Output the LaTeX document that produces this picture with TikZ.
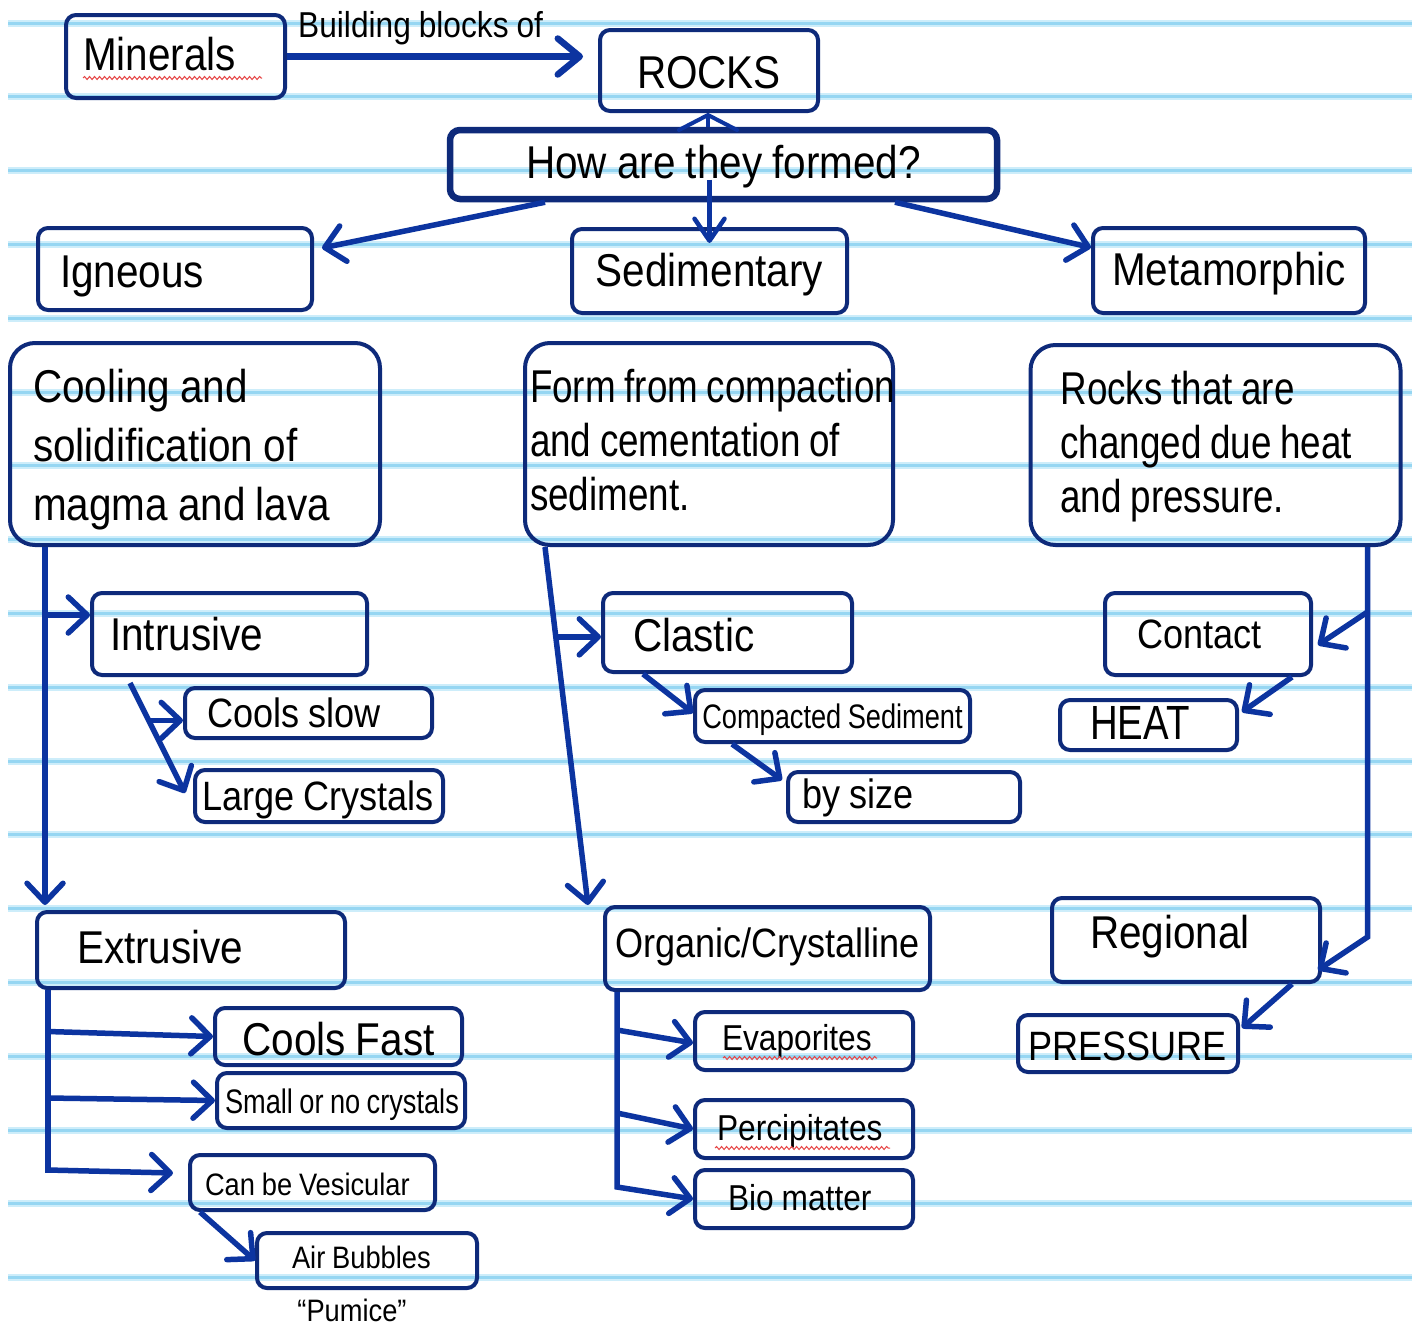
\documentclass[tikz,border=0pt]{standalone}
\usepackage{fontspec}
\setmainfont{Liberation Sans}[FakeStretch=0.88,WordSpace=0.9]
\newfontfamily\narrowsans{Liberation Sans}[FakeStretch=0.80,WordSpace=0.85]
\usetikzlibrary{arrows.meta,calc,decorations.pathmorphing}
\definecolor{boxc}{RGB}{14,42,122}
\definecolor{arrc}{RGB}{12,52,160}
\definecolor{rulea}{RGB}{205,237,250}
\definecolor{ruleb}{RGB}{150,214,242}
\definecolor{squigc}{RGB}{230,70,70}
\newcommand\natsp{\spaceskip=0pt\relax\xspaceskip=0pt\relax}
\tikzset{
  bx/.style={draw=boxc, line width=4pt, rounded corners=10pt, inner sep=0pt, text=black},
  bigbx/.style={bx, rounded corners=25pt},
  tb/.style 2 args={text height=#1pt, text depth=#2pt},
  lpad/.style={text width=#1pt, align=left},
  fbig/.style={font=\fontsize{46}{55}\selectfont},
  fmed/.style={font=\fontsize{41}{50}\selectfont},
  fsm/.style={font=\fontsize{31}{38}\selectfont},
  fev/.style={font=\fontsize{36}{44}\selectfont},
  conn/.style={draw=arrc, line width=5.5pt, -{Straight Barb[length=19pt,width=36pt,round]}},
  trunk/.style={draw=arrc, line width=5.5pt},
  ruleline/.style={draw=rulea, line width=7pt},
  rulecore/.style={draw=ruleb, line width=3pt},
  squig/.style={draw=squigc, line width=1pt, decorate, decoration={snake, segment length=5pt, amplitude=1.5pt}},
}
\begin{document}
\begin{tikzpicture}[x=1pt,y=-1pt]
\fill[white] (0,0) rectangle (1412,1325);
\useasboundingbox (0,0) rectangle (1412,1325);
% ruled paper
\foreach \k in {0,...,17}{
  \pgfmathsetmacro\yy{23+73.8*\k}
  \draw[ruleline] (8,\yy) -- (1412,\yy);
  \draw[rulecore] (8,\yy) -- (1412,\yy);
}
% top row
\node[bx, fbig, minimum width=219pt, minimum height=83pt, lpad=185, tb={33.5}{6.5}] (minerals) at (175.5,56.5) {\natsp\mbox{Minerals}};
\node[bx, fbig, minimum width=218pt, minimum height=81pt, tb={37.5}{2.5}] (rocks) at (709,70.5) {ROCKS};
\node[bx, fbig, line width=6.5pt, minimum width=547pt, minimum height=69pt, tb={34}{6}] (how) at (723.5,164.5) {How are they formed?};
\node[fev, anchor=base west, inner sep=0pt] (bblbl) at (298,37) {Building blocks of};
% second row
\node[bx, fbig, minimum width=274pt, minimum height=82pt, lpad=230, tb={38}{2}] (igneous) at (175,269) {\natsp\mbox{Igneous}};
\node[bx, fbig, minimum width=275pt, minimum height=84pt, tb={35.5}{4.5}] (sedimentary) at (709.5,271) {Sedimentary};
\node[bx, fbig, minimum width=272pt, minimum height=85pt, tb={34.5}{5.5}] (metamorphic) at (1229,270.5) {Metamorphic};
% description boxes
\node[bigbx, font=\fontsize{46}{59}\selectfont, minimum width=370pt, minimum height=202pt, lpad=324, tb={20}{104}] (cooling) at (195,444)
  {\natsp\mbox{Cooling and}\\\mbox{solidification of}\\\mbox{magma and lava}};
\node[bigbx, font=\narrowsans\fontsize{46}{54}\selectfont, minimum width=368pt, minimum height=202pt, lpad=358, tb={20}{104}] (form) at (709,444)
  {\natsp\mbox{Form from compaction}\\\mbox{and cementation of}\\\mbox{sediment.}};
\node[bigbx, font=\narrowsans\fontsize{46}{54}\selectfont, minimum width=370pt, minimum height=200pt, lpad=310, tb={20}{102}] (rocksthat) at (1215.5,445)
  {\natsp\mbox{Rocks that are}\\\mbox{changed due heat}\\\mbox{and pressure.}};
% igneous column
\node[bx, fbig, minimum width=275pt, minimum height=82pt, lpad=239, tb={36}{4}] (intrusive) at (229.5,634) {\natsp\mbox{Intrusive}};
\node[bx, fmed, minimum width=247pt, minimum height=50pt, lpad=203, tb={34}{6}] (coolsslow) at (308.5,713) {\natsp\mbox{Cools slow}};
\node[bx, fmed, minimum width=248pt, minimum height=52pt, lpad=234, tb={34}{6}] (largecrystals) at (319,796) {\natsp\mbox{Large Crystals}};
\node[bx, fbig, minimum width=308pt, minimum height=76pt, lpad=228, tb={33}{7}] (extrusive) at (191,950) {\natsp\mbox{Extrusive}};
\node[bx, fbig, minimum width=247pt, minimum height=57pt, tb={38.5}{1.5}] (coolsfast) at (338.5,1036.5) {Cools Fast};
\node[bx, font=\narrowsans\fontsize{34}{40}\selectfont, minimum width=248pt, minimum height=55pt, lpad=232, tb={32.5}{7.5}] (small) at (341,1100.5) {\natsp\mbox{Small or no crystals}};
\node[bx, fsm, minimum width=245pt, minimum height=55pt, lpad=215, tb={32.5}{7.5}] (vesicular) at (312.5,1182.5) {\natsp\mbox{Can be Vesicular}};
\node[bx, fsm, minimum width=220pt, minimum height=55pt, lpad=150, tb={27.5}{12.5}] (airbubbles) at (367,1260.5) {\natsp\mbox{Air Bubbles}};
\node[fsm, anchor=base, inner sep=0pt] (pumice) at (352,1321) {“Pumice”};
% sedimentary column
\node[bx, fbig, minimum width=249pt, minimum height=79pt, lpad=189, tb={38.5}{1.5}] (clastic) at (727.5,632.5) {\natsp\mbox{Clastic}};
\node[bx, font=\narrowsans\fontsize{34}{40}\selectfont, minimum width=275pt, minimum height=52pt, tb={32}{8}] (compacted) at (832.5,716) {Compacted Sediment};
\node[bx, fmed, minimum width=232pt, minimum height=50pt, lpad=204, tb={31}{9}] (bysize) at (904,797) {\natsp\mbox{by size}};
\node[bx, fmed, minimum width=325pt, minimum height=83pt, tb={28.5}{11.5}] (organic) at (767.5,948.5) {Organic/Crystalline};
\node[bx, fev, minimum width=218pt, minimum height=58pt, lpad=164, tb={29}{11}] (evaporites) at (804,1041) {\natsp\mbox{Evaporites}};
\node[bx, fev, minimum width=218pt, minimum height=58pt, lpad=174, tb={31}{9}] (percipitates) at (804,1129) {\natsp\mbox{Percipitates}};
\node[bx, fev, minimum width=218pt, minimum height=58pt, lpad=152, tb={31}{9}] (biomatter) at (804,1199) {\natsp\mbox{Bio matter}};
% metamorphic column
\node[bx, fmed, minimum width=206pt, minimum height=82pt, lpad=142, tb={34}{6}] (contact) at (1208,634) {\natsp\mbox{Contact}};
\node[bx, font=\narrowsans\fontsize{48}{56}\selectfont, minimum width=177pt, minimum height=50pt, lpad=117, tb={34}{6}] (heat) at (1148.5,725) {\natsp\mbox{HEAT}};
\node[bx, fbig, minimum width=268pt, minimum height=84pt, lpad=192, tb={28}{12}] (regional) at (1186,940) {\natsp\mbox{Regional}};
\node[bx, fmed, minimum width=220pt, minimum height=57pt, lpad=200, tb={36.5}{3.5}] (pressure) at (1128,1043.5) {\natsp\mbox{PRESSURE}};
% spell-check squiggles
\draw[squig] (83,78) -- (262,78);
\draw[squig] (723,1058) -- (877,1058);
\draw[squig] (715,1148) -- (890,1148);
% top connectors
\draw[conn, line width=6.5pt, -{Straight Barb[length=22pt,width=36pt,round]}, shorten >=15pt] (minerals.east) -- (minerals.east -| rocks.west);
\draw[conn, line width=4pt, -{Straight Barb[length=15pt,width=58pt,round]}] ([xshift=-15.5pt]how.north) -- ([xshift=-1pt]rocks.south);
\draw[conn] ([xshift=-178.5pt]how.south) -- ([xshift=8pt,yshift=21pt]igneous.east);
\coordinate (hs) at (sedimentary.north |- how.center);
\draw[conn, line width=4.5pt, -{Straight Barb[length=22pt,width=30pt,round]}] ([yshift=-15pt]hs) -- ([yshift=-16pt]sedimentary.north);
\draw[conn] ([xshift=171.5pt]how.south) -- ([yshift=23pt]metamorphic.west);
% igneous trunk
\coordinate (lt) at ([xshift=37pt]cooling.south west);
\coordinate (ib) at ([yshift=19pt]intrusive.west);
\draw[conn, shorten >=5pt] (lt) -- (lt |- extrusive.north);
\draw[conn] (lt |- ib) -- (ib);
\coordinate (is) at ([xshift=40pt,yshift=-6pt]intrusive.south west);
\coordinate (ie) at ([xshift=-8pt,yshift=3pt]largecrystals.west);
\draw[conn] (is) -- (ie);
\coordinate (ij) at ($(is)!0.34!(ie)$);
\draw[conn] (ij) -- (ij -| coolsslow.west);
% extrusive trunk
\coordinate (et) at ([xshift=13pt]extrusive.south west);
\coordinate (e1) at (et |- coolsfast.west);
\coordinate (e2) at (et |- small.west);
\coordinate (e3end) at ([xshift=-15pt,yshift=9.5pt]vesicular.west);
\coordinate (e3a) at (et |- e3end);
\draw[trunk] (et) -- (e3a);
\draw[conn] ([yshift=5pt]e1) -- (coolsfast.west);
\draw[conn] ([yshift=2.5pt]e2) -- (small.west);
\draw[conn] ([yshift=3pt]e3a) -- (e3end);
\draw[conn] ([xshift=12pt]vesicular.south west) -- (airbubbles.west);
% sedimentary trunk
\coordinate (st) at ([xshift=22pt]form.south west);
\coordinate (se) at ([xshift=-15pt]organic.north west);
\draw[conn] (st) -- (se);
\coordinate (sj) at ($(st)!0.251!(se)$);
\draw[conn] (sj) -- (sj -| clastic.west);
\draw[conn] ([xshift=42pt]clastic.south west) -- ([yshift=3pt]compacted.west);
\draw[conn] ([xshift=39pt]compacted.south west) -- ([xshift=-4pt,yshift=17pt]bysize.west);
% organic trunk
\coordinate (ot) at ([xshift=14pt]organic.south west);
\coordinate (o1) at (ot |- evaporites.west);
\coordinate (o2) at (ot |- percipitates.west);
\coordinate (o3) at (ot |- biomatter.west);
\draw[conn] (ot) -- ([yshift=12pt]o3) -- (biomatter.west);
\draw[conn] ([yshift=11pt]o1) -- ([yshift=-2pt]evaporites.west);
\draw[conn] ([yshift=16pt]o2) -- (percipitates.west);
% metamorphic trunk
\coordinate (rt) at ([xshift=-35pt]rocksthat.south east);
\coordinate (r1) at (rt |- contact.east);
\coordinate (r2) at (rt |- regional.east);
\draw[conn] (rt) -- ([yshift=3pt]r2) -- ([xshift=-4pt,yshift=-30pt]regional.east);
\draw[conn] ([yshift=22pt]r1) -- ([xshift=5pt,yshift=-11pt]contact.east);
\draw[conn] ([xshift=-21pt]contact.south east) -- ([xshift=3pt,yshift=13pt]heat.east);
\draw[conn] ([xshift=-30pt]regional.south east) -- ([xshift=2pt,yshift=15.5pt]pressure.east);
\end{tikzpicture}
\end{document}
